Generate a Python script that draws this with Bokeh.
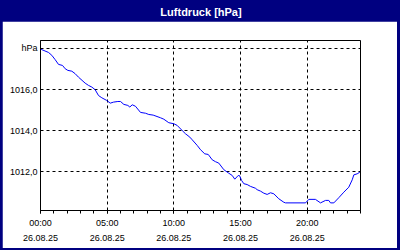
from bokeh.plotting import figure
from bokeh.layouts import column
from bokeh.models import Range1d, FixedTicker, Label
from bokeh.embed import file_html
from bokeh.resources import INLINE

# Time in hours since 26.08.25 00:00
hours = [0.05, 0.6, 0.85, 1.1, 1.35, 1.65, 1.85, 2.05, 2.35, 2.6, 2.85, 3.35, 3.6, 3.85,
         4.1, 4.35, 4.6, 4.97, 5.23, 5.48, 5.8, 6.0, 6.25, 6.55, 6.7, 6.88, 7.12, 7.5,
         7.88, 8.12, 8.45, 9.0, 9.25, 9.62, 10.0, 10.25, 10.63, 10.88, 11.2, 11.38,
         11.75, 12.0, 12.32, 12.58, 12.88, 13.12, 13.37, 13.75, 14.12, 14.38, 14.57,
         14.83, 14.93, 15.08, 15.25, 15.5, 15.75, 16.12, 16.25, 16.5, 16.75, 17.0,
         17.25, 17.5, 17.87, 18.25, 18.38, 19.88, 20.12, 20.62, 21.0, 21.38, 21.62,
         21.75, 22.0, 22.37, 22.75, 23.12, 23.38, 23.5, 23.75, 23.95]
pressure = [1017.95, 1017.80, 1017.66, 1017.45, 1017.22, 1017.17, 1017.01, 1016.93, 1016.89,
            1016.77, 1016.60, 1016.31, 1016.20, 1016.12, 1015.99, 1015.71, 1015.60, 1015.47,
            1015.34, 1015.39, 1015.42, 1015.42, 1015.28, 1015.23, 1015.15, 1015.26, 1015.19,
            1014.89, 1014.85, 1014.79, 1014.76, 1014.63, 1014.56, 1014.39, 1014.34, 1014.26,
            1014.01, 1013.85, 1013.69, 1013.56, 1013.29, 1013.08, 1012.88, 1012.85, 1012.59,
            1012.50, 1012.43, 1012.11, 1011.94, 1011.83, 1011.65, 1011.83, 1011.82, 1011.59,
            1011.43, 1011.39, 1011.30, 1011.21, 1011.14, 1011.07, 1010.97, 1010.91, 1010.99,
            1010.94, 1010.70, 1010.53, 1010.50, 1010.50, 1010.67, 1010.67, 1010.50, 1010.62,
            1010.62, 1010.50, 1010.50, 1010.75, 1011.02, 1011.26, 1011.62, 1011.86, 1011.91,
            1011.99]

x_ticks = [0, 5, 10, 15, 20]
x_minor = list(range(0, 25))
x_labels = ["00:00\n26.08.25", "05:00\n26.08.25", "10:00\n26.08.25",
            "15:00\n26.08.25", "20:00\n26.08.25"]
y_ticks = [1012, 1014, 1016, 1018]
y_labels = ["1012,0", "1014,0", "1016,0", "hPa"]
title_text = "Luftdruck [hPa]"

NAVY = "#000080"
FONT = "Liberation Sans"
W, H = 400, 250
BAR = 21                      # height of the navy title bar
BL, BR, BB = 2, 3, 2          # navy border widths: left, right, bottom

# ---- title bar ----
t = figure(width=W, height=BAR, output_backend="svg", toolbar_location=None,
           x_range=Range1d(0, W), y_range=Range1d(0, BAR),
           x_axis_location=None, y_axis_location=None, min_border=0)
t.title.text = ""
t.grid.visible = False
t.border_fill_color = NAVY
t.background_fill_color = NAVY
t.outline_line_color = None
t.add_layout(Label(x=W / 2, y=BAR - 11.5, text=title_text,
                   text_align="center", text_baseline="alphabetic", text_color="white",
                   text_font=FONT, text_font_size="11px", text_font_style="bold"))

# ---- main chart ----
PW, PH = W - BL - BR, H - BAR - BB
p = figure(width=PW, height=PH, output_backend="svg", toolbar_location=None,
           x_range=Range1d(0, 24), y_range=Range1d(1010.13, 1018.38),
           min_border_left=40 - BL, min_border_right=PW - (360 - BL),
           min_border_top=40 - BAR, min_border_bottom=PH - (210 - BAR),
           margin=(0, BR, BB, BL))
p.title.text = ""
p.border_fill_color = "white"
p.background_fill_color = "white"
p.outline_line_color = "black"
p.outline_line_width = 1

p.line(hours, pressure, line_color="#0000FF", line_width=1)

xt = FixedTicker(ticks=x_ticks, minor_ticks=x_minor)
p.xaxis.ticker = xt
p.xaxis.major_label_overrides = dict(zip(x_ticks, x_labels))
p.xaxis.major_tick_out = 3
p.xaxis.major_tick_in = 0
p.xaxis.minor_tick_out = 3
p.xaxis.minor_tick_in = 0
p.xaxis.major_label_standoff = 4
p.xaxis.major_label_text_line_height = 1.55

yt = FixedTicker(ticks=y_ticks, minor_ticks=[])
p.yaxis.ticker = yt
p.yaxis.major_label_overrides = dict(zip(y_ticks, y_labels))
p.yaxis.major_tick_out = 0
p.yaxis.major_tick_in = 0
p.yaxis.minor_tick_out = 0
p.yaxis.minor_tick_in = 0
p.yaxis.major_label_standoff = 3

for ax in (p.xaxis, p.yaxis):
    ax.axis_line_color = "black"
    ax.major_tick_line_color = "black"
    ax.minor_tick_line_color = "black"
    ax.major_label_text_font = FONT
    ax.major_label_text_font_size = "9px"
    ax.major_label_text_color = "black"

for g in (p.xgrid, p.ygrid):
    g.grid_line_color = "black"
    g.grid_line_dash = "3 3"
    g.grid_line_width = 1

layout = column(t, p, spacing=0, styles={"background-color": NAVY})

open("out.html", "w").write(file_html(layout, INLINE))
